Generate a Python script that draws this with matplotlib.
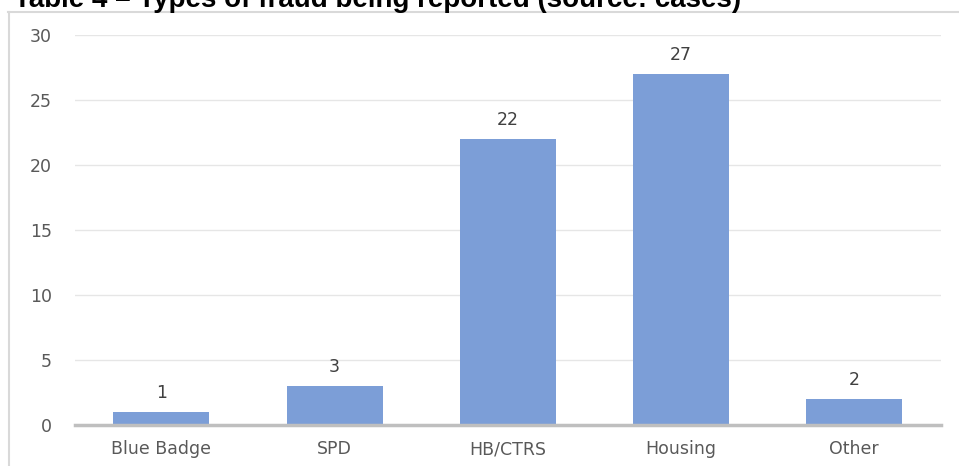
# Types of fraud being reported - bar chart

import matplotlib.pyplot as plt
from matplotlib.lines import Line2D

# Data
categories = ['Blue Badge', 'SPD', 'HB/CTRS', 'Housing', 'Other']
cases = [1, 3, 22, 27, 2]
yticks = [0, 5, 10, 15, 20, 25, 30]

plt.rcParams['font.family'] = ['DejaVu Sans']

fig = plt.figure(figsize=(9.59, 4.66), dpi=100)
ax = fig.add_axes([0.078, 0.088, 0.903, 0.837])

bars = ax.bar(range(len(categories)), cases, width=0.555, color='#7C9ED7', zorder=2)

# value labels above bars
for b, v in zip(bars, cases):
    ax.annotate(str(v), (b.get_x() + b.get_width() / 2, v), xytext=(0, 7),
                textcoords='offset points', ha='center', va='bottom',
                fontsize=12.5, color='#404040')

ax.set_xlim(-0.5, len(categories) - 0.5)
ax.set_ylim(0, 30)
ax.set_yticks(yticks)
ax.set_xticks(range(len(categories)))
ax.set_xticklabels(categories)
ax.tick_params(axis='both', length=0, labelsize=12.5, labelcolor='#595959')
ax.tick_params(axis='y', pad=16.5)
ax.tick_params(axis='x', pad=11)

# gridlines and spines
ax.grid(axis='y', color='#E6E6E6', linewidth=1, zorder=0)
for s in ['top', 'right', 'left']:
    ax.spines[s].set_visible(False)
ax.spines['bottom'].set_color('#BFBFBF')
ax.spines['bottom'].set_linewidth(2.5)
ax.spines['bottom'].set_zorder(3)

# chart frame from the document (cropped)
fig.add_artist(Line2D([8 / 959, 1], [1 - 12 / 466] * 2, color='#D9D9D9', linewidth=1.5))
fig.add_artist(Line2D([9 / 959] * 2, [0, 1 - 12 / 466], color='#D9D9D9', linewidth=1.5))

# caption above the frame, cut off by the crop
fig.text(14 / 959, 1 - 7 / 466, 'Table 4 \u2013 Types of fraud being reported (source: cases)',
         fontsize=20, fontweight='bold', family='Liberation Sans', va='baseline', ha='left')

fig.savefig('out.png', dpi=100)
